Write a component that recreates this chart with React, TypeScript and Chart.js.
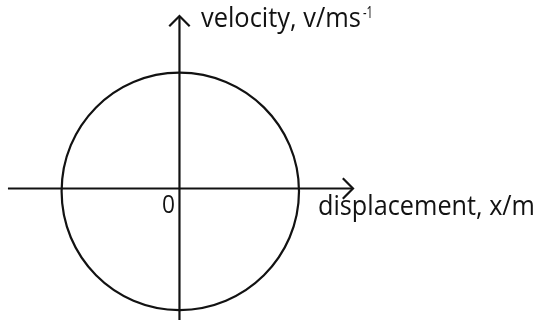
import React, { useEffect, useRef } from "react";
import { Chart, registerables } from "chart.js";

Chart.register(...registerables);

// Phase-space circle: intercepts (amplitude units)
const circleTop = [0, 0.976];
const circleRight = [1.007, -0.024];
const circleBottom = [0, -1.024];
const circleLeft = [-0.993, -0.024];

// Axis extents (data units)
const xAxisLine = [-1.445, 1.462];
const vAxisLine = [-1.2, 1.453];
const arrowSize = [0.086, 0.086];

// Scale ranges
const xRange = [-1.512, 3.029];
const vRange = [-1.108, 1.588];

// Labels
const xLabel = "displacement, x/m";
const vLabel = "velocity, v/ms";
const vLabelSup = "-1";
const originLabel = "0";

const INK = "#121212";
const FONT = "'Open Sans', 'Noto Sans', sans-serif";

export default function App() {
  const ref = useRef<HTMLCanvasElement | null>(null);

  useEffect(() => {
    const canvas = ref.current;
    if (!canvas) return;

    const loop = [circleLeft, circleTop, circleRight, circleBottom, circleLeft, circleTop, circleRight];
    const circleData = loop.map((p) => ({ x: p[0], y: p[1] }));
    const last = circleData.length - 1;

    const xTip = xAxisLine[1];
    const vTip = vAxisLine[1];

    const drawFit = (ctx: any, text: string, x: number, y: number, size: number, width: number) => {
      ctx.font = `${size}px ${FONT}`;
      const m = ctx.measureText(text).width;
      const k = width / m;
      ctx.save();
      ctx.translate(x, y);
      ctx.scale(k, 1);
      ctx.fillText(text, 0, 0);
      ctx.restore();
    };

    const labelsPlugin = {
      id: "labels",
      afterDatasetsDraw(chart: any) {
        const ctx = chart.ctx;
        const xs = chart.scales.x;
        const ys = chart.scales.y;
        const x0 = xs.getPixelForValue(0);
        const y0 = ys.getPixelForValue(0);
        const vTopPx = ys.getPixelForValue(vTip);
        const xTipPx = xs.getPixelForValue(xTip);
        ctx.save();
        ctx.fillStyle = INK;
        ctx.textBaseline = "alphabetic";
        ctx.textAlign = "left";
        drawFit(ctx, vLabel, x0 + 21.5, vTopPx + 11, 27.5, 160);
        drawFit(ctx, vLabelSup, x0 + 183.5, vTopPx + 1.5, 17, 10);
        drawFit(ctx, xLabel, xTipPx - 35, y0 + 26.5, 27.5, 217);
        drawFit(ctx, originLabel, x0 - 17.5, y0 + 24.5, 25.5, 13);
        ctx.restore();
      },
    };

    const lineStyle = {
      showLine: true,
      borderColor: INK,
      borderWidth: 2.2,
      pointRadius: 0,
      pointHoverRadius: 0,
      fill: false,
      tension: 0,
    };

    const chart = new Chart(canvas, {
      type: "scatter",
      data: {
        datasets: [
          {
            ...lineStyle,
            label: "circle",
            data: circleData,
            tension: 0.5523,
            segment: {
              borderColor: (c: any) =>
                c.p0DataIndex === 0 || c.p1DataIndex === last ? "rgba(0,0,0,0)" : INK,
            },
          },
          {
            ...lineStyle,
            label: "x axis",
            data: [
              { x: xAxisLine[0], y: 0 },
              { x: xAxisLine[1], y: 0 },
            ],
          },
          {
            ...lineStyle,
            label: "v axis",
            data: [
              { x: 0, y: vAxisLine[0] },
              { x: 0, y: vAxisLine[1] },
            ],
          },
          {
            ...lineStyle,
            label: "x arrow",
            data: [
              { x: xTip - arrowSize[0], y: arrowSize[1] },
              { x: xTip, y: 0 },
              { x: xTip - arrowSize[0], y: -arrowSize[1] },
            ],
          },
          {
            ...lineStyle,
            label: "v arrow",
            data: [
              { x: -arrowSize[0], y: vTip - arrowSize[1] },
              { x: 0, y: vTip },
              { x: arrowSize[0], y: vTip - arrowSize[1] },
            ],
          },
        ],
      },
      options: {
        animation: false,
        responsive: false,
        events: [],
        layout: { padding: 0 },
        plugins: {
          legend: { display: false },
          tooltip: { enabled: false },
          title: { display: false },
        },
        scales: {
          x: { type: "linear", min: xRange[0], max: xRange[1], display: false },
          y: { type: "linear", min: vRange[0], max: vRange[1], display: false },
        },
      },
      plugins: [labelsPlugin],
    });

    return () => chart.destroy();
  }, []);

  return (
    <div style={{ position: "fixed", left: 0, top: 0, width: 539, height: 320, background: "#fff" }}>
      <canvas ref={ref} width={539} height={320} style={{ display: "block", width: 539, height: 320 }} />
    </div>
  );
}
